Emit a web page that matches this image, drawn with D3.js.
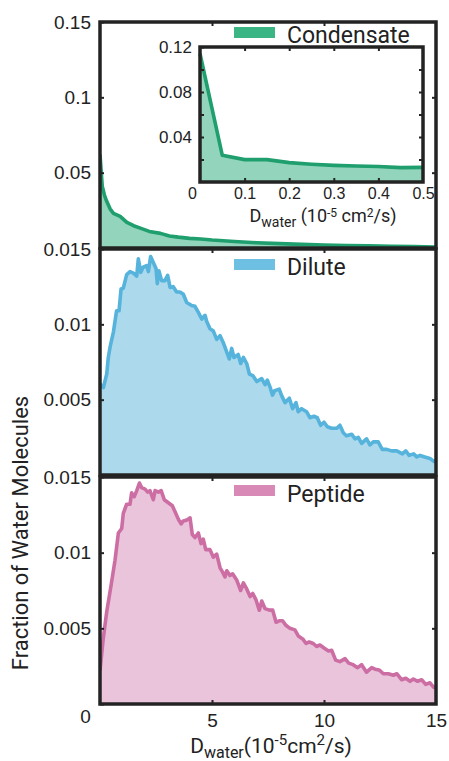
<!DOCTYPE html>
<html lang="en">
<head>
<meta charset="utf-8"/>
<title>Water diffusion distributions</title>
<script src="https://d3js.org/d3.v7.min.js"></script>
<style>
body { margin: 0; background: #fff; }
svg { display: block; font-family: Roboto, "DejaVu Sans", sans-serif; }
.frame { fill: none; stroke: #232323; stroke-width: 3.5; }
.tick line { stroke: #232323; stroke-width: 2; }
.tick text { fill: #222; }
.lbl { fill: #222; }
</style>
</head>
<body>
<div id="chart"></div>
<script>
// ---- data (fraction values in units of 1e-3 for the noisy curves) ----
var condD    = [0, 0.1, 0.2, 0.3, 0.45, 0.6, 0.9, 1.2, 1.5, 1.8, 2.2, 2.7, 3.1, 3.5, 4, 4.5, 5, 6, 7, 8, 9, 10, 11, 12, 13, 14, 15];
var condFrac = [0.062, 0.041, 0.035, 0.031, 0.026, 0.023, 0.021, 0.017, 0.0148, 0.0132, 0.011, 0.0097, 0.008, 0.0072, 0.0064, 0.006, 0.0053, 0.0043, 0.0035, 0.0029, 0.0024, 0.002, 0.0017, 0.0014, 0.0011, 0.0009, 0.0007];

var insetD    = [0, 0.05, 0.1, 0.15, 0.2, 0.25, 0.3, 0.35, 0.4, 0.45, 0.5];
var insetFrac = [0.114, 0.0237, 0.0199, 0.0199, 0.0172, 0.0158, 0.0148, 0.0142, 0.0138, 0.0128, 0.013];

var diluteD = [0, 0.15, 0.3, 0.37, 0.45, 0.6, 0.74, 0.85, 0.94, 1.04, 1.19, 1.34, 1.49, 1.64, 1.71, 1.82, 1.93, 2.08, 2.16, 2.26,
  2.38, 2.5, 2.56, 2.63, 2.75, 2.9, 3.02, 3.13, 3.27, 3.42, 3.57, 3.72, 3.87, 4.09, 4.24, 4.39, 4.54, 4.69, 4.76, 4.91,
  5.06, 5.21, 5.36, 5.5, 5.66, 5.77, 5.88, 5.98, 6.17, 6.28, 6.4, 6.55, 6.67, 6.82, 7.0, 7.22, 7.37, 7.47, 7.6, 7.7,
  7.8, 8.0, 8.1, 8.26, 8.45, 8.6, 8.75, 8.85, 9.0, 9.22, 9.37, 9.55, 9.7, 9.85, 10.0, 10.15, 10.34, 10.57, 10.71, 10.86,
  11.0, 11.24, 11.38, 11.53, 11.68, 11.9, 12.05, 12.2, 12.42, 12.6, 12.8, 13.02, 13.25, 13.5, 13.65, 13.8, 14.0, 14.14, 14.29, 14.5,
  14.73, 14.9, 15];
var diluteFrac = [6.05, 5.8, 6.7, 7.8, 8.5, 9.5, 10.9, 10.9, 12.35, 12.4, 13.3, 13.5, 13.4, 13.2, 14.35, 13.45, 13.8, 13.9, 13.5, 14.5,
  14.1, 13.7, 12.7, 13.55, 12.9, 12.9, 13.25, 12.45, 12.5, 12.15, 12.15, 12.0, 11.45, 11.25, 11.2, 10.8, 10.35, 10.6, 10.2, 9.7,
  9.55, 9.0, 9.25, 8.8, 8.15, 7.7, 8.4, 7.8, 8.0, 7.4, 7.8, 7.4, 6.7, 6.6, 6.2, 6.4, 6.0, 6.3, 5.8, 5.3,
  5.6, 5.7, 5.3, 4.8, 5.1, 4.4, 4.8, 4.2, 4.4, 4.2, 3.8, 3.9, 3.8, 3.3, 3.5, 3.2, 3.1, 3.1, 3.3, 2.8,
  2.6, 2.7, 2.4, 2.5, 2.1, 2.4, 2.0, 2.2, 2.2, 1.7, 1.7, 1.6, 1.6, 1.4, 1.6, 1.3, 1.4, 1.2, 1.3, 1.2,
  1.1, 0.9, 0.95];

var peptideD = [0, 0.15, 0.3, 0.5, 0.67, 0.82, 0.97, 1.04, 1.19, 1.34, 1.41, 1.53, 1.64, 1.76, 1.86, 2.01, 2.13, 2.23, 2.38, 2.46,
  2.61, 2.73, 2.87, 3.05, 3.23, 3.38, 3.5, 3.62, 3.72, 3.87, 4.02, 4.12, 4.24, 4.39, 4.51, 4.61, 4.72, 4.91, 5.06, 5.21,
  5.36, 5.48, 5.58, 5.66, 5.8, 5.92, 6.1, 6.28, 6.4, 6.55, 6.7, 6.82, 6.96, 7.11, 7.22, 7.37, 7.56, 7.71, 7.86, 8.0,
  8.15, 8.3, 8.48, 8.7, 8.85, 9.05, 9.2, 9.34, 9.52, 9.67, 9.82, 10.0, 10.2, 10.34, 10.52, 10.71, 10.94, 11.1, 11.3, 11.5,
  11.68, 11.9, 12.13, 12.28, 12.46, 12.65, 12.87, 13.1, 13.25, 13.47, 13.65, 13.84, 13.99, 14.18, 14.36, 14.54, 14.73, 14.9, 15];
var peptideFrac = [2.2, 4.4, 6.1, 7.9, 9.5, 11.3, 11.6, 12.6, 13.2, 13.2, 13.95, 13.7, 14.1, 14.6, 14.3, 14.2, 14.0, 14.1, 13.5, 14.1,
  14.0, 14.1, 13.5, 13.3, 13.1, 12.6, 12.2, 11.9, 12.1, 12.15, 12.3, 11.2, 11.0, 11.3, 10.6, 10.9, 10.2, 10.2, 9.7, 9.9,
  9.0, 8.7, 8.4, 8.8, 8.5, 8.6, 8.2, 7.5, 8.0, 7.6, 7.1, 7.3, 6.9, 6.2, 6.8, 6.3, 6.2, 6.2, 5.4, 5.5,
  5.5, 5.2, 5.0, 4.9, 4.5, 4.3, 4.0, 4.1, 4.0, 3.8, 3.9, 3.7, 3.5, 3.55, 2.9, 2.8, 3.0, 2.7, 2.6, 2.4,
  2.6, 2.1, 2.4, 2.3, 2.25, 2.0, 2.0, 1.9, 2.0, 1.6, 1.7, 1.5, 1.65, 1.5, 1.6, 1.3, 1.4, 1.1, 1.15];

var seriesNames = ["Condensate", "Dilute", "Peptide"];
var yTicksTop = [0, 0.05, 0.1, 0.15];
var yTicksLow = [0, 0.005, 0.01, 0.015];
var xTicks = [0, 5, 10, 15];
var insetYTicks = [0.02, 0.04, 0.06, 0.08, 0.1, 0.12];
var insetYLabels = [0.04, 0.08, 0.12];
var insetXTicks = [0, 0.1, 0.2, 0.3, 0.4, 0.5];

// ---- layout ----
var w = 449, h = 761;
var left = 100, right = 436;
var panels = [
  {top: 22,  bottom: 248, max: 0.15,  ticks: yTicksTop, scale: 1,     d: condD,    v: condFrac,    line: "#1f9e6e", fill: "#93d5bc", sw: "#3cb584", legY: 27, txtY: 43},
  {top: 249, bottom: 475, max: 0.015, ticks: yTicksLow, scale: 0.001, d: diluteD,  v: diluteFrac,  line: "#55b3dc", fill: "#acd9ec", sw: "#6ec0e2", legY: 259, txtY: 275},
  {top: 477, bottom: 704, max: 0.015, ticks: yTicksLow, scale: 0.001, d: peptideD, v: peptideFrac, line: "#cc6ea3", fill: "#e9c4da", sw: "#d889b5", legY: 485, txtY: 502}
];

var svg = d3.select("#chart").append("svg").attr("width", w).attr("height", h);

var xScale = d3.scaleLinear().domain([0, 15]).range([left, right]);

panels.forEach(function(p, i) {
  var yScale = d3.scaleLinear().domain([0, p.max]).range([p.bottom, p.top]);
  var pts = p.d.map(function(d, k) { return [d, p.v[k] * p.scale]; });
  var g = svg.append("g");

  var clipId = "clip" + i;
  svg.append("clipPath").attr("id", clipId).append("rect")
     .attr("x", left).attr("y", p.top).attr("width", right - left).attr("height", p.bottom - p.top);

  var area = d3.area()
     .x(function(d) { return xScale(d[0]); })
     .y0(p.bottom)
     .y1(function(d) { return yScale(d[1]); });
  var line = d3.line()
     .x(function(d) { return xScale(d[0]); })
     .y(function(d) { return yScale(d[1]); });

  g.append("path").datum(pts).attr("clip-path", "url(#" + clipId + ")")
   .attr("d", area).attr("fill", p.fill);
  g.append("path").datum(pts).attr("clip-path", "url(#" + clipId + ")")
   .attr("d", line).attr("fill", "none").attr("stroke", p.line)
   .attr("stroke-width", 3.6).attr("stroke-linejoin", "round");

  // y axes, ticks pointing inward
  var yl = g.append("g").attr("transform", "translate(" + left + ",0)")
     .call(d3.axisLeft(yScale).tickValues(p.ticks).tickSize(-4).tickPadding(9)
        .tickFormat(function(d) { return d === 0 ? "" : d3.format("~g")(d); }));
  yl.select(".domain").remove();
  yl.selectAll("text").attr("font-size", 19);

  var yr = g.append("g").attr("transform", "translate(" + right + ",0)")
     .call(d3.axisRight(yScale).tickValues(p.ticks.slice(1, -1)).tickSize(-4).tickFormat(""));
  yr.select(".domain").remove();

  var xt = g.append("g").attr("transform", "translate(0," + p.top + ")")
     .call(d3.axisTop(xScale).tickValues([5, 10]).tickSize(-4).tickFormat(""));
  xt.select(".domain").remove();

  if (i === 2) {
    var xb = g.append("g").attr("transform", "translate(0," + p.bottom + ")")
       .call(d3.axisBottom(xScale).tickValues(xTicks).tickSize(-4).tickPadding(10));
    xb.select(".domain").remove();
    xb.selectAll("text").attr("font-size", 19);
    xb.selectAll(".tick").filter(function(d) { return d === 0 || d === 15; }).select("line").remove();
    xb.selectAll(".tick").filter(function(d) { return d === 0; }).select("text")
      .attr("x", -15).attr("y", 6);
  }

  g.append("rect").attr("class", "frame")
   .attr("x", left).attr("y", p.top).attr("width", right - left).attr("height", p.bottom - p.top);

  // legend
  g.append("rect").attr("x", 234).attr("y", p.legY).attr("width", 41).attr("height", 11).attr("fill", p.sw);
  g.append("text").attr("class", "lbl").attr("x", 287).attr("y", p.txtY)
   .attr("font-size", 23).text(seriesNames[i]);
});

// ---- inset ----
var ix0 = 200, ix1 = 423, iy0 = 47, iy1 = 182;
var ixScale = d3.scaleLinear().domain([0, 0.5]).range([ix0, ix1]);
var iyScale = d3.scaleLinear().domain([0, 0.12]).range([iy1, iy0]);
var ins = svg.append("g");
var insPts = insetD.map(function(d, k) { return [d, insetFrac[k]]; });

ins.append("rect").attr("x", ix0).attr("y", iy0).attr("width", ix1 - ix0).attr("height", iy1 - iy0).attr("fill", "#fff");
ins.append("path").datum(insPts)
   .attr("d", d3.area().x(function(d) { return ixScale(d[0]); }).y0(iy1).y1(function(d) { return iyScale(d[1]); }))
   .attr("fill", "#93d5bc");
ins.append("path").datum(insPts)
   .attr("d", d3.line().x(function(d) { return ixScale(d[0]); }).y(function(d) { return iyScale(d[1]); }))
   .attr("fill", "none").attr("stroke", "#1f9e6e").attr("stroke-width", 3.6).attr("stroke-linejoin", "round");

var iyl = ins.append("g").attr("transform", "translate(" + ix0 + ",0)")
   .call(d3.axisLeft(iyScale).tickValues(insetYTicks).tickSize(-4).tickPadding(8)
      .tickFormat(function(d) { return insetYLabels.indexOf(d) >= 0 ? d3.format(".2f")(d) : ""; }));
iyl.select(".domain").remove();
iyl.selectAll("text").attr("font-size", 17);

var iyr = ins.append("g").attr("transform", "translate(" + ix1 + ",0)")
   .call(d3.axisRight(iyScale).tickValues(insetYTicks.slice(0, -1)).tickSize(-4).tickFormat(""));
iyr.select(".domain").remove();

var ixt = ins.append("g").attr("transform", "translate(0," + iy0 + ")")
   .call(d3.axisTop(ixScale).tickValues(insetXTicks.slice(1, -1)).tickSize(-4).tickFormat(""));
ixt.select(".domain").remove();

var ixb = ins.append("g").attr("transform", "translate(0," + iy1 + ")")
   .call(d3.axisBottom(ixScale).tickValues(insetXTicks).tickSize(-4).tickPadding(6).tickFormat(d3.format("~g")));
ixb.select(".domain").remove();
ixb.selectAll("text").attr("font-size", 16);
ixb.selectAll(".tick").filter(function(d) { return d === 0 || d === 0.5; }).select("line").remove();
ixb.selectAll(".tick").filter(function(d) { return d === 0; }).select("text").attr("x", -8);

ins.append("rect").attr("class", "frame")
   .attr("x", ix0).attr("y", iy0).attr("width", ix1 - ix0).attr("height", iy1 - iy0);

// inset axis title
var it = ins.append("text").attr("class", "lbl").attr("x", 323).attr("y", 222)
   .attr("text-anchor", "middle").attr("font-size", 18);
it.append("tspan").text("D");
it.append("tspan").attr("font-size", 14).attr("dy", 5).text("water");
it.append("tspan").attr("dy", -5).text(" (10");
it.append("tspan").attr("font-size", 12).attr("dy", -5).text("-5");
it.append("tspan").attr("dy", 5).text(" cm");
it.append("tspan").attr("font-size", 12).attr("dy", -5).text("2");
it.append("tspan").attr("dy", 5).text("/s)");

// main axis titles
var xl = svg.append("text").attr("class", "lbl").attr("x", 271).attr("y", 753)
   .attr("text-anchor", "middle").attr("font-size", 21);
xl.append("tspan").text("D");
xl.append("tspan").attr("font-size", 16).attr("dy", 5).text("water");
xl.append("tspan").attr("dy", -5).text("(10");
xl.append("tspan").attr("font-size", 15).attr("dy", -8).text("-5");
xl.append("tspan").attr("dy", 8).text("cm");
xl.append("tspan").attr("font-size", 15).attr("dy", -8).text("2");
xl.append("tspan").attr("dy", 8).text("/s)");

svg.append("text").attr("class", "lbl")
   .attr("transform", "translate(28,533) rotate(-90)")
   .attr("text-anchor", "middle").attr("font-size", 22)
   .text("Fraction of Water Molecules");
</script>
</body>
</html>
